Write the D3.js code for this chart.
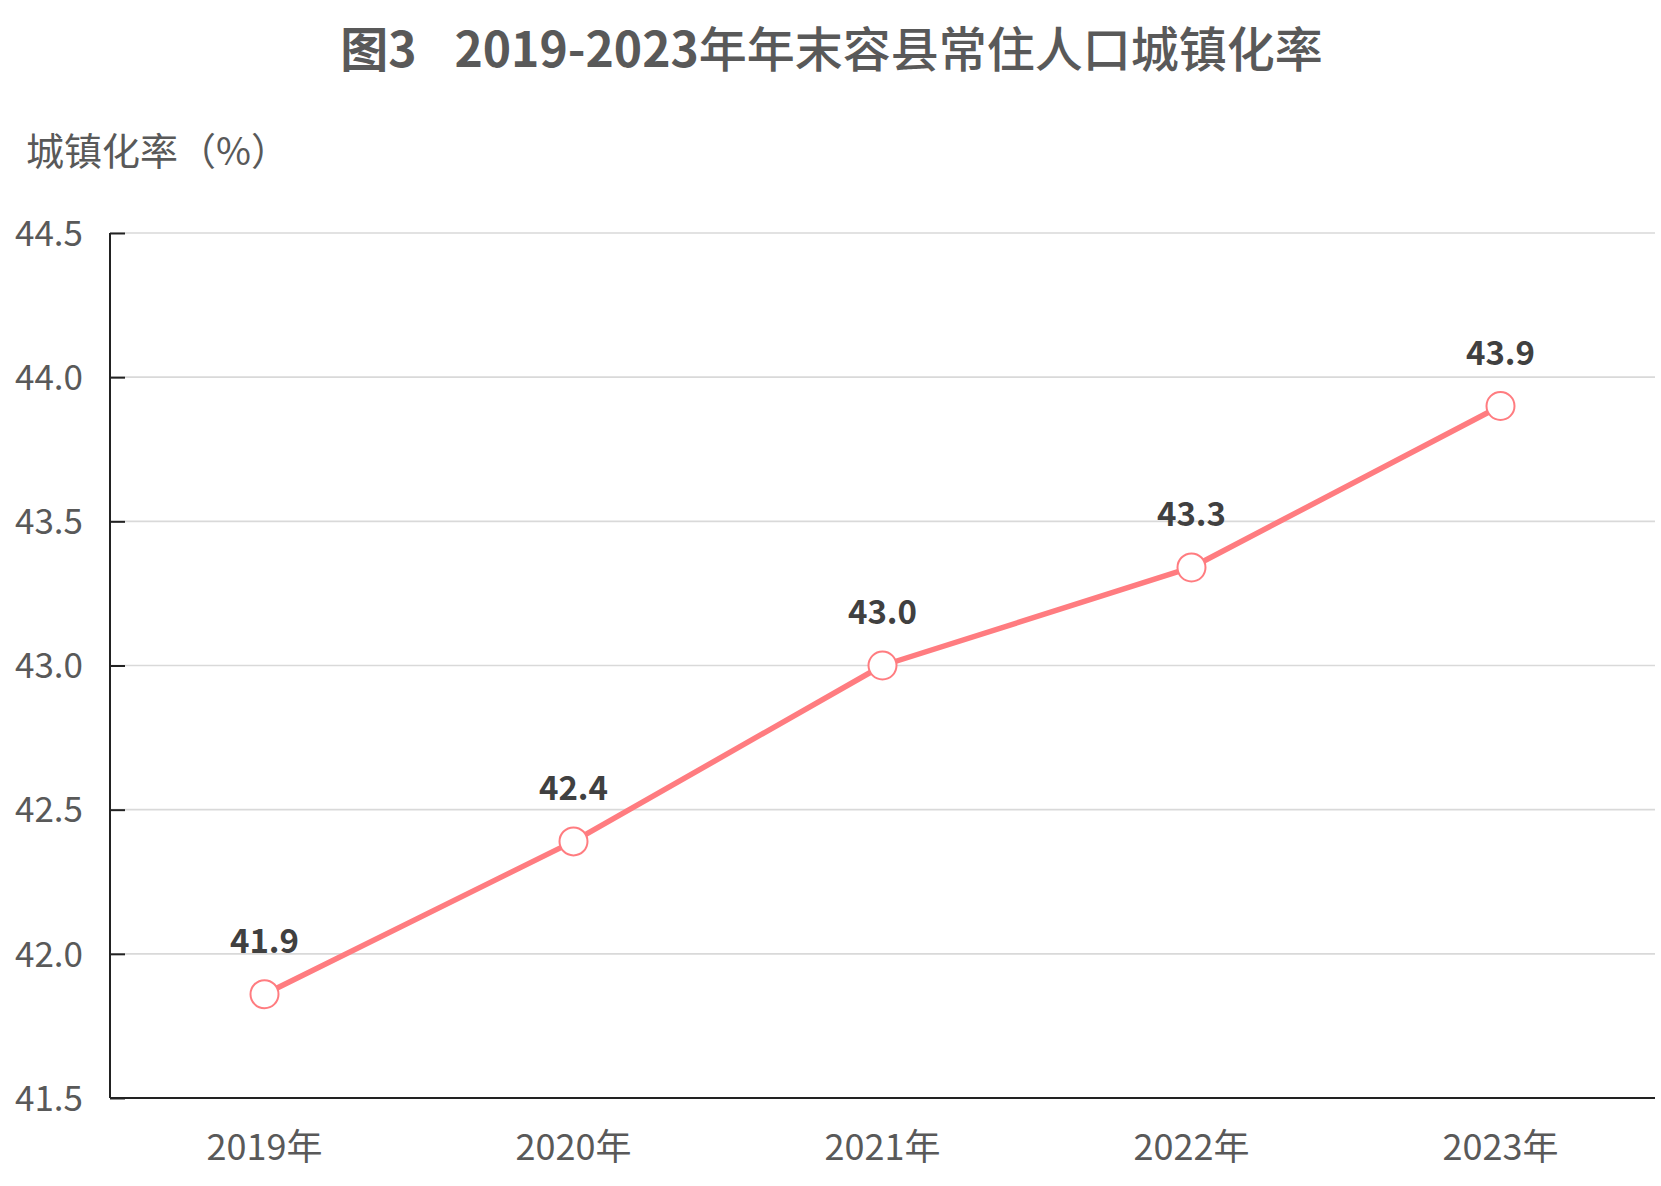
<!DOCTYPE html>
<html>
<head>
<meta charset="utf-8">
<script src="https://cdn.jsdelivr.net/npm/d3@7"></script>
<style>
  html, body { margin: 0; padding: 0; background: #fff; }
  svg { display: block; }
  text { font-family: "Noto Sans CJK SC", "Noto Sans", sans-serif; }
</style>
</head>
<body>
<svg id="chart" width="1661" height="1186"></svg>
<script>
// ---- data ----
const categories = ["2019年", "2020年", "2021年", "2022年", "2023年"];
const rates = [41.86, 42.39, 43.00, 43.34, 43.90];
const yTicks = [41.5, 42.0, 42.5, 43.0, 43.5, 44.0, 44.5];
const titlePrefix = "图3";
const titleYears = "2019-2023";
const titleRest = "年年末容县常住人口城镇化率";
const yAxisTitle = "城镇化率（%）";

const W = 1661, H = 1186;
const margin = { left: 110, right: 6, top: 233, bottom: 88 };
const svg = d3.select("#chart");

const x = d3.scaleBand().domain(categories).range([margin.left, W - margin.right]);
const y = d3.scaleLinear().domain([41.5, 44.5]).range([H - margin.bottom, margin.top]);

// gridlines
svg.append("g").selectAll("line").data(yTicks.slice(1)).join("line")
  .attr("x1", margin.left).attr("x2", W - margin.right)
  .attr("y1", d => y(d)).attr("y2", d => y(d))
  .attr("stroke", "#d9d9d9").attr("stroke-width", 1.6);

// y axis
const yAxis = d3.axisLeft(y).tickValues(yTicks).tickFormat(d3.format(".1f"))
  .tickSize(-15).tickPadding(0);
const gy = svg.append("g").attr("transform", `translate(${margin.left},0)`).call(yAxis);
gy.select(".domain").attr("stroke", "#222").attr("stroke-width", 2).attr("d", `M0,${y(44.5)}V${y(41.5)}`);
gy.selectAll(".tick line").attr("stroke", "#222").attr("stroke-width", 2);
gy.selectAll(".tick text")
  .attr("x", -27).attr("dy", "0.35em")
  .attr("fill", "#595959").attr("font-size", 35)
  .attr("font-family", '"Noto Sans CJK SC", sans-serif');

// x axis
const xAxis = d3.axisBottom(x).tickSize(0).tickPadding(0);
const gx = svg.append("g").attr("transform", `translate(0,${y(41.5)})`).call(xAxis);
gx.select(".domain").attr("stroke", "#222").attr("stroke-width", 2.2)
  .attr("d", `M${margin.left},0H${W - margin.right}`);
gx.selectAll(".tick text")
  .attr("y", 49).attr("dy", "0.35em")
  .attr("fill", "#595959").attr("font-size", 36)
  .attr("font-family", '"Noto Sans CJK SC", sans-serif');

// line
const cx = d => x(d) + x.bandwidth() / 2;
const line = d3.line().x((d, i) => cx(categories[i])).y(d => y(d));
svg.append("path").datum(rates)
  .attr("d", line).attr("fill", "none")
  .attr("stroke", "#ff7c80").attr("stroke-width", 5.5).attr("stroke-linejoin", "round");

// markers
svg.append("g").selectAll("circle").data(rates).join("circle")
  .attr("cx", (d, i) => cx(categories[i])).attr("cy", d => y(d))
  .attr("r", 14).attr("fill", "#fff")
  .attr("stroke", "#ff7c80").attr("stroke-width", 2);

// data labels
svg.append("g").selectAll("text").data(rates).join("text")
  .attr("x", (d, i) => cx(categories[i])).attr("y", d => y(d) - 53)
  .attr("dy", "0.35em").attr("text-anchor", "middle")
  .attr("font-size", 33).attr("font-weight", 700).attr("fill", "#404040")
  .text(d => d3.format(".1f")(d));

// y axis title
svg.append("text").attr("x", 26).attr("y", 152).attr("dy", "0.35em")
  .attr("font-size", 38).attr("fill", "#595959").text(yAxisTitle);

// chart title
const t = svg.append("text").attr("x", W / 2 + 1).attr("y", 50).attr("dy", "0.35em")
  .attr("text-anchor", "middle").attr("font-size", 48).attr("fill", "#595959");
t.append("tspan").attr("font-weight", 700).text(titlePrefix);
t.append("tspan").attr("dx", 38).attr("font-weight", 700).text(titleYears);
t.append("tspan").attr("font-weight", 500).text(titleRest);
</script>
</body>
</html>
